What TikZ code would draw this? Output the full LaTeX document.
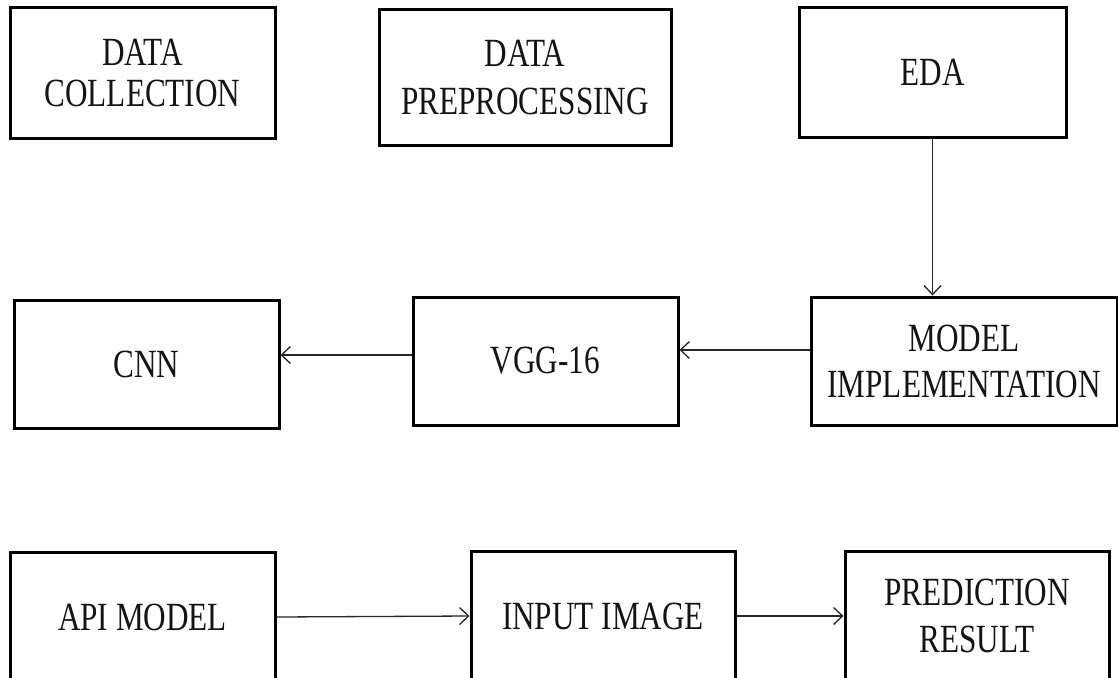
\documentclass[tikz,border=0pt]{standalone}
\usepackage{fontspec}
\setmainfont{Liberation Serif}[FakeStretch=0.78]
\usetikzlibrary{arrows.meta}
\tikzset{
  box/.style={draw=black, line width=3pt, fill=white, inner sep=0pt, align=center,
    font=\fontsize{40}{41}\selectfont, text=black!92},
  wide/.style={font=\fontsize{40}{47}\selectfont},
  arr/.style={draw=black!85, line width=1.3pt, -{Straight Barb[length=9pt,width=17pt,line width=1.3pt]}}
}
\begin{document}
\begin{tikzpicture}[x=1pt, y=-1pt]
\useasboundingbox (0,0) rectangle (1118,677);
\clip (0,0) rectangle (1118,677);
\fill[white] (0,0) rectangle (1118,677);
% top row
\node[box, minimum width=265pt, minimum height=130pt] (dc) at (142.5,73) {DATA\\COLLECTION};
\node[box, wide, font=\fontsize{40}{48}\selectfont, minimum width=292pt, minimum height=135pt] (dp) at (525,77.5) {DATA\\PREPROCESSING};
\node[box, minimum width=267pt, minimum height=129pt] (eda) at (932.5,72.5) {EDA};
% middle row
\node[box, minimum width=265pt, minimum height=128pt] (cnn) at (146.5,364) {CNN};
\node[box, minimum width=265pt, minimum height=128pt] (vgg) at (545.5,361) {VGG-16};
\node[box, font=\fontsize{40}{46}\selectfont, minimum width=306pt, minimum height=128pt] (mi) at (964,361) {MODEL\\IMPLEMENTATION};
% bottom row
\node[box, minimum width=265pt, minimum height=130pt] (api) at (142.5,617) {API MODEL};
\node[box, minimum width=264pt, minimum height=130pt] (inp) at (603,616) {INPUT IMAGE};
\node[box, wide, minimum width=264pt, minimum height=130pt] (pred) at (977,616) {PREDICTION\\RESULT};
% connectors
\draw[arr] (eda.south) -- (eda.south |- mi.north);
\draw[arr] ([yshift=11pt]mi.west) -- ([yshift=11pt]mi.west -| vgg.east);
\draw[arr] ([yshift=6pt]vgg.west) -- ([yshift=6pt]vgg.west -| cnn.east);
\draw[arr] (api.east) -- (inp.west);
\draw[arr] (inp.east) -- (pred.west);
\end{tikzpicture}
\end{document}
